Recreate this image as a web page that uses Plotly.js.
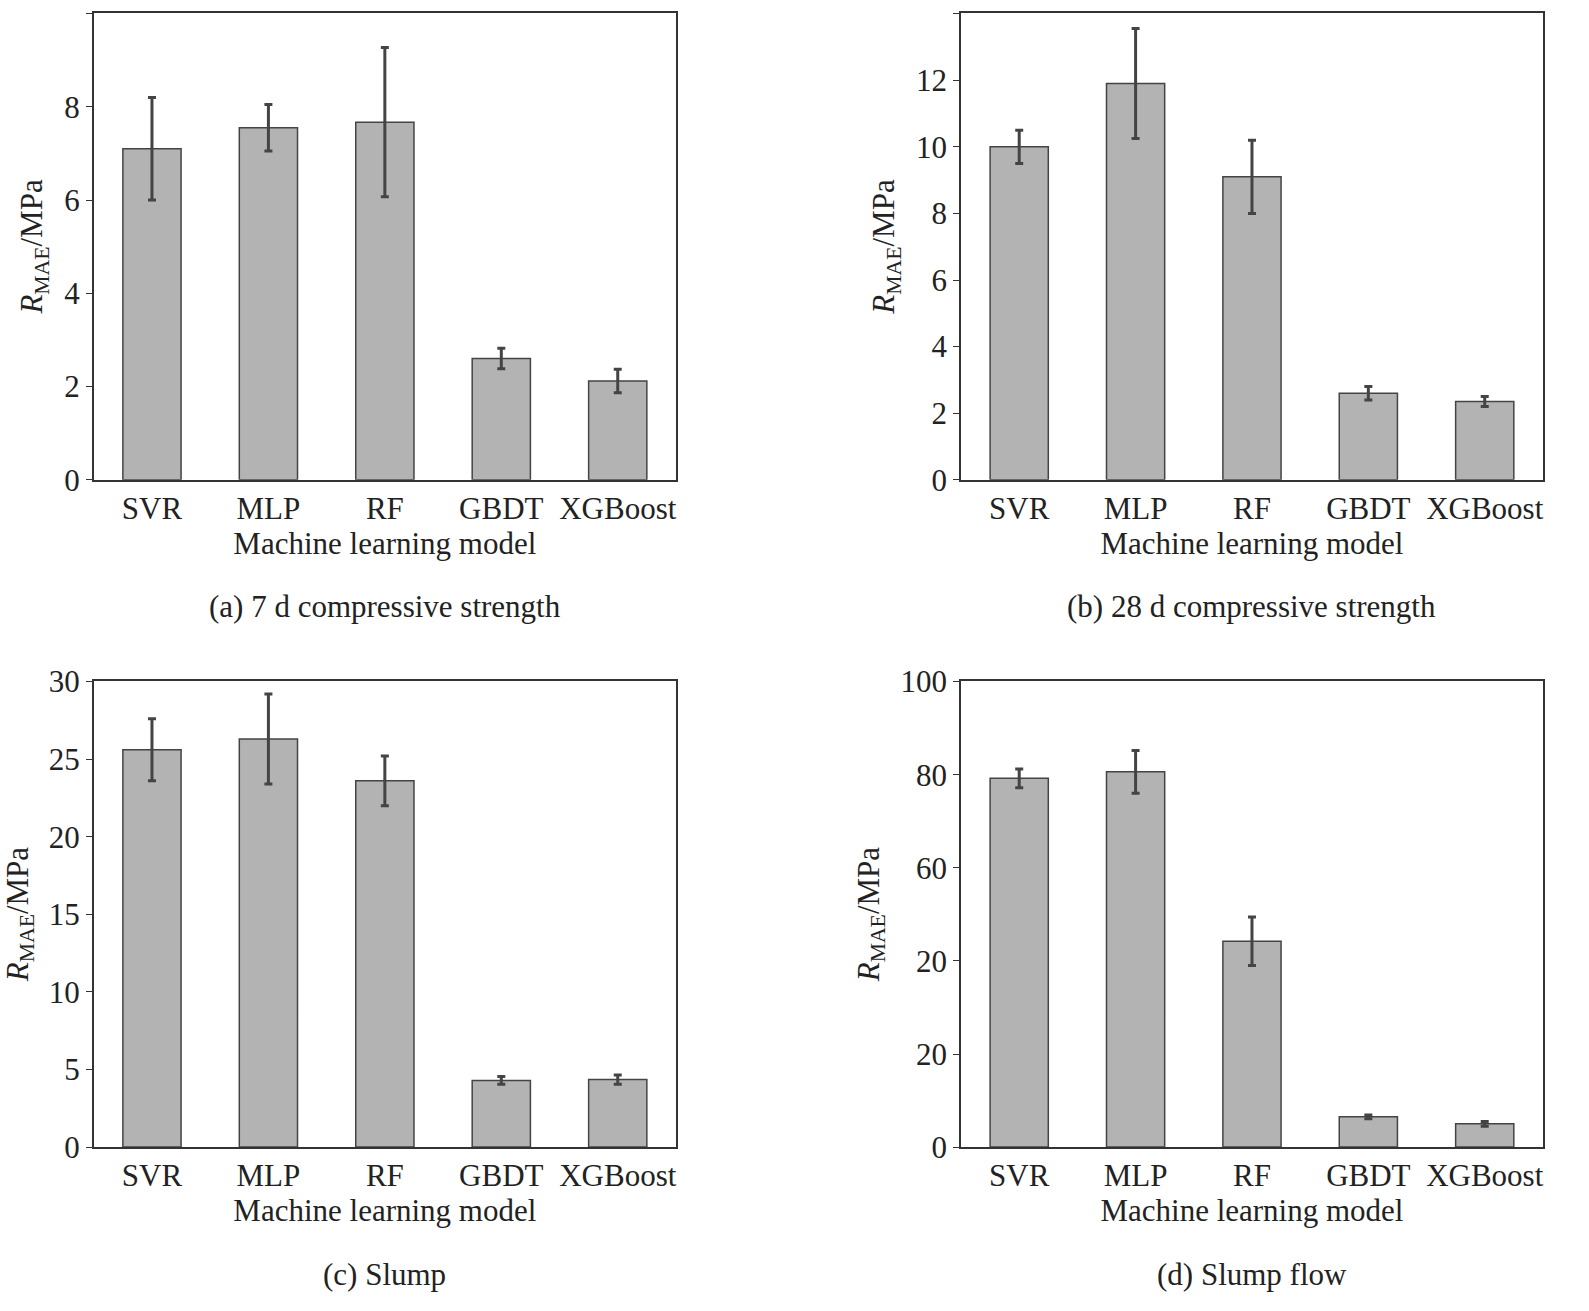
<html><head><script src="https://cdn.plot.ly/plotly-3.0.1.min.js"></script></head><body style="margin:0">
<div id="c" style="width:1589px;height:1311px"></div>
<script>
const models=["SVR","MLP","RF","GBDT","XGBoost"];
const a_val=[7.1,7.55,7.67,2.6,2.12], a_err=[1.1,0.5,1.6,0.22,0.25];
const b_val=[10.0,11.9,9.1,2.6,2.35], b_err=[0.5,1.65,1.1,0.2,0.15];
const c_val=[25.6,26.3,23.6,4.3,4.35], c_err=[2.0,2.9,1.6,0.25,0.3];
const d_val=[79.2,80.6,44.2,6.5,5.0], d_err=[2.0,4.6,5.2,0.4,0.5];
const a_ticks=[0,2,4,6,8,10], b_ticks=[0,2,4,6,8,10,12,14], c_ticks=[0,5,10,15,20,25,30];
const d_ticks=[0,20,40,60,80,100], d_ticktext=["0","20","20","60","80","100"];
const captions=["(a) 7 d compressive strength","(b) 28 d compressive strength","(c) Slump","(d) Slump flow"];
const F="Liberation Serif, Times New Roman, serif";
const sets=[[a_val,a_err],[b_val,b_err],[c_val,c_err],[d_val,d_err]];
const tickSets=[[a_ticks,a_ticks.map(String)],[b_ticks,b_ticks.map(String)],[c_ticks,c_ticks.map(String)],[d_ticks,d_ticktext]];
const traces=sets.map((s,i)=>({type:"bar",x:models,y:s[0],width:0.5,
 xaxis:"x"+(i?i+1:""),yaxis:"y"+(i?i+1:""),
 marker:{color:"#b3b3b3",line:{color:"#444",width:1.5}},
 error_y:{type:"data",array:s[1],color:"#444",thickness:3,width:4},showlegend:false}));
const xd=[[0.059,0.4254],[0.6048,0.971]], yd=[[0.634,0.990],[0.125,0.4805]];
const layout={margin:{l:0,r:0,t:0,b:0},paper_bgcolor:"#fff",plot_bgcolor:"#fff",font:{family:F,size:31,color:"#222"},annotations:[]};
for(let i=0;i<4;i++){
 const k=i?i+1:"";
 const xdom=xd[i%2], ydom=yd[Math.floor(i/2)];
 const tv=tickSets[i][0], mx=tv[tv.length-1];
 layout["xaxis"+k]={domain:xdom,anchor:"y"+k,showline:true,mirror:true,linecolor:"#333",linewidth:1.5,ticks:"",
  tickfont:{size:31,family:F},title:{text:"Machine learning model",font:{size:31,family:F},standoff:6},fixedrange:true};
 layout["yaxis"+k]={domain:ydom,anchor:"x"+k,range:[0,mx*1.001],tickmode:"array",tickvals:tv,ticktext:tickSets[i][1],
  showline:true,mirror:true,linecolor:"#333",linewidth:1.5,
  ticks:"outside",ticklen:6,tickcolor:"#333",showgrid:false,zeroline:false,tickfont:{size:31,family:F},
  title:{text:"<i>R</i><sub>MAE</sub>/MPa",font:{size:31,family:F},standoff:12}};
 layout.annotations.push({text:captions[i],xref:"paper",yref:"paper",x:(xdom[0]+xdom[1])/2,y:ydom[0]-0.097,
  xanchor:"center",yanchor:"middle",showarrow:false,font:{size:31,family:F}});
}
Plotly.newPlot("c",traces,layout,{displayModeBar:false});
</script></body></html>
